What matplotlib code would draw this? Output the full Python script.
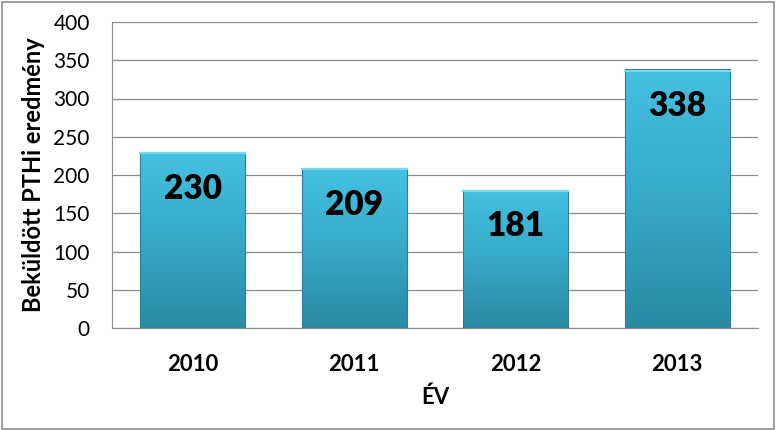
import matplotlib.pyplot as plt
import numpy as np
from matplotlib.patches import Rectangle

years = ["2010", "2011", "2012", "2013"]
counts = [230, 209, 181, 338]

plt.rcParams["font.family"] = ["Lato", "DejaVu Sans"]

fig = plt.figure(figsize=(7.76, 4.30), dpi=100)
ax = fig.add_axes([112 / 776, (430 - 328) / 430, (758 - 112) / 776, (328 - 22) / 430])

x = np.arange(len(years))
bars = ax.bar(x, counts, width=0.65, color="none", edgecolor="none", zorder=3)

# vertical gradient fill, light cyan at the top to darker teal at the bottom
grad = np.linspace(0, 1, 256).reshape(-1, 1)
cmap = plt.matplotlib.colors.LinearSegmentedColormap.from_list(
    "bar", ["#2a8aa3", "#36a9c8", "#45c1e2"])
for b in bars:
    x0, y0, w, h = b.get_x(), b.get_y(), b.get_width(), b.get_height()
    im = ax.imshow(grad, cmap=cmap, aspect="auto", origin="lower",
                   extent=[x0, x0 + w, y0, y0 + h], zorder=3)
    clip = Rectangle((x0, y0), w, h, transform=ax.transData)
    im.set_clip_path(clip)
    ax.add_patch(Rectangle((x0, y0), w, h, fill=False, edgecolor="#2b7f96",
                           linewidth=0.8, zorder=4))
    ax.plot([x0, x0 + w], [y0 + h - 1.5, y0 + h - 1.5], color="#7ad9f0",
            linewidth=1.5, zorder=4)
    ax.text(x0 + w / 2, y0 + h - 27, f"{h:.0f}", ha="center", va="top",
            fontsize=24, fontweight="heavy", color="black", zorder=5)

ax.set_xlim(-0.5, len(years) - 0.5)
ax.set_ylim(0, 400)
ax.set_yticks(range(0, 401, 50))
ax.set_xticks(x)
ax.set_xticklabels(years, fontsize=16, fontweight="bold")
ax.tick_params(axis="y", labelsize=15, length=0, pad=16)
ax.tick_params(axis="x", length=0, pad=19)
ax.yaxis.grid(True, color="#8c8c8c", linewidth=0.9, zorder=0)
ax.set_axisbelow(True)
for s in ["top", "right"]:
    ax.spines[s].set_visible(False)
ax.spines["left"].set_color("#8c8c8c")
ax.spines["bottom"].set_color("#8c8c8c")

ax.set_ylabel("Beküldött PTHi eredmény", fontsize=17, fontweight="bold", labelpad=6)
ax.set_xlabel("ÉV", fontsize=16, fontweight="bold", labelpad=8)

fig.patches.append(Rectangle((0.002, 0.003), 0.995, 0.993, transform=fig.transFigure,
                             fill=False, edgecolor="#8c8c8c", linewidth=1.2))

fig.savefig("out.png", dpi=100)
